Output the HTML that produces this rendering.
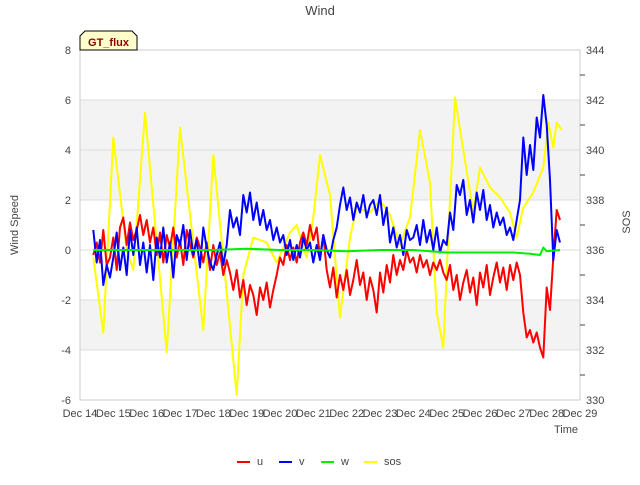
<!DOCTYPE html>
<html><head><meta charset="utf-8"><style>
body{margin:0;background:#fff;font-family:"Liberation Sans",sans-serif}
</style></head><body>
<svg width="640" height="480" xmlns="http://www.w3.org/2000/svg" font-family="Liberation Sans, sans-serif">
<g id="bg"></g><g id="grid"></g><g id="series"></g><g id="axes"></g>
</svg>
<script>
const startDay=14.4, step=0.1;
const uVals=[-0.2,0.3,-0.5,0.8,-0.6,-0.3,
0.5,-0.8,0.9,1.3,0.2,1.1,0.4,0.8,1.4,0.6,
1.2,0.3,0.9,-0.2,0.7,-0.5,0.6,0.1,0.9,-0.3,
0.4,-0.6,0.8,0.2,-0.3,0.5,0.1,-0.5,0.3,-0.8,
0.2,-0.6,-0.1,-1.0,-0.4,-0.9,-1.6,-0.8,-1.9,-1.2,
-2.2,-1.4,-1.8,-2.6,-1.5,-2.0,-1.3,-2.3,-1.6,-1.0,
-0.3,-0.6,0.2,-0.4,0.1,-0.5,0.3,0.7,0.2,1.0,
0.4,0.9,-0.3,0.6,-0.8,-1.5,-0.7,-1.9,-1.0,-1.6,
-0.8,-1.8,-1.2,-0.4,-1.4,-0.9,-2.0,-1.1,-1.6,-2.5,
-0.9,-1.7,-0.6,-1.3,-0.2,-1.0,-0.4,-0.8,0.0,-0.5,
-0.3,-0.9,-0.2,-0.7,-0.4,-1.0,-0.5,-0.8,-0.4,-0.9,
-1.2,-0.6,-1.6,-1.0,-2.0,-1.3,-0.8,-1.7,-1.1,-2.2,
-0.9,-1.5,-0.6,-1.8,-1.1,-0.5,-1.3,-0.7,-1.6,-0.6,
-1.2,-0.5,-1.0,-2.5,-3.5,-3.2,-3.7,-3.3,-3.9,-4.3,
-1.5,-2.4,-0.3,1.6,1.2];
const vVals=[0.8,-0.5,0.4,-1.4,-0.6,-1.1,
-0.3,0.7,-0.8,0.1,-1.0,0.8,-0.2,0.9,-0.6,0.3,
-0.9,0.2,-1.2,0.5,-0.3,0.9,-0.5,0.3,-1.1,0.6,
0.2,1.0,-0.4,0.8,-0.2,0.4,-0.7,0.9,0.1,-0.5,
-0.8,-0.2,0.3,-0.6,0.2,1.6,0.9,1.3,0.6,2.2,
1.5,2.3,1.2,1.9,1.0,1.6,0.8,1.2,0.4,0.9,
0.3,0.6,-0.2,0.4,-0.4,0.2,-0.3,0.5,0.0,0.3,
-0.5,0.2,-0.4,0.6,0.0,-0.3,0.4,0.9,1.8,2.5,
1.6,2.1,1.2,1.9,1.5,2.2,1.3,1.8,2.0,1.4,
2.2,1.0,1.7,0.3,0.9,0.1,0.6,-0.2,0.8,0.4,
0.5,1.0,0.2,1.2,0.3,0.8,0.0,0.9,-0.1,0.4,
0.2,1.5,0.8,2.6,2.2,2.8,1.4,2.0,1.1,2.3,
1.6,2.4,1.2,1.8,0.9,1.5,1.0,1.3,0.6,0.9,
0.4,1.2,2.0,4.5,3.0,4.2,3.2,5.3,4.5,6.2,
5.0,2.8,-0.4,0.8,0.3];
const wDays=[14.4,15,16,17,18,19,20,21,22,23,24,25,26,27,27.5,27.8,27.9,28,28.4];
const wVals=[0,0,0,0,0,0.05,0,0,-0.05,0,0,-0.1,-0.1,-0.1,-0.15,-0.2,0.1,-0.05,0];
const sosDays=[14.4,14.7,15.0,15.4,15.6,15.95,16.6,17.0,17.7,18.0,18.7,18.9,19.2,19.6,19.9,20.3,20.5,20.8,21.0,21.2,21.5,21.8,22.1,22.3,22.7,23.0,23.3,23.6,23.9,24.2,24.5,24.7,24.9,25.1,25.25,25.5,25.8,26.0,26.3,26.6,26.9,27.1,27.3,27.6,27.9,28.05,28.2,28.3,28.45];
const sosVals=[335.7,332.7,340.5,336,335.2,341.5,331.9,340.9,332.8,339.8,330.2,335,336.5,336.3,335.5,336.7,337,335.7,337.3,339.8,338.2,333.3,336.5,337.7,337.5,338,337.4,336.2,337.3,340.8,338.7,333.5,332.1,338,342.1,340,337.5,339.3,338.5,338.1,337.5,336.5,337.7,338.3,339.3,341.1,340.1,341.1,340.8];
const xTicks=["Dec 14","Dec 15","Dec 16","Dec 17","Dec 18","Dec 19","Dec 20","Dec 21","Dec 22","Dec 23","Dec 24","Dec 25","Dec 26","Dec 27","Dec 28","Dec 29"];
const yTicks=[-6,-4,-2,0,2,4,6,8];
const y2Ticks=[330,332,334,336,338,340,342,344];

const NS="http://www.w3.org/2000/svg";
const L=80,R=580,T=50,B=400;
const x=d=>L+(d-14)*(R-L)/15;
const y=v=>B-(v+6)*(B-T)/14;
const y2=v=>B-(v-330)*(B-T)/14;
function mk(p,tag,a,txt){const e=document.createElementNS(NS,tag);for(const k in a)e.setAttribute(k,a[k]);if(txt!==undefined)e.textContent=txt;document.getElementById(p).appendChild(e);return e;}
let b1=mk('bg','rect',{x:L,y:y(6),width:R-L,height:y(2)-y(6),fill:'#f3f3f3'});


let b2=mk('bg','rect',{x:L,y:y(-2),width:R-L,height:y(-4)-y(-2),fill:'#f3f3f3'});


yTicks.forEach(v=>{const g=mk('grid','line',{x1:L,x2:R,y1:y(v),y2:y(v),stroke:'#dcdcdc','stroke-width':1});

});
function line(xs,ys,color,name,w){const pts=xs.map((d,i)=>x(d).toFixed(1)+','+ys[i].toFixed(1)).join(' ');
const p=mk('series','polyline',{points:pts,fill:'none',stroke:color,'stroke-width':w||2,'stroke-linejoin':'round'});

}
const dd=uVals.map((_,i)=>startDay+i*step);
line(sosDays,sosVals.map(y2),'#ffff00','sos-line');
line(dd,uVals.map(y),'#ff0000','u-line');
line(dd,vVals.map(y),'#0000ff','v-line');
line(wDays,wVals.map(y),'#00ee00','w-line');
let ax=mk('axes','rect',{x:L,y:T,width:R-L,height:B-T,fill:'none',stroke:'#cccccc'});


yTicks.forEach(v=>{const t=mk('axes','text',{x:L-9,y:y(v)+4,'text-anchor':'end','font-size':11,fill:'#444'},v);

});
y2Ticks.forEach(v=>{const t=mk('axes','text',{x:R+6,y:y2(v)+4,'font-size':11,fill:'#444'},v);


if(v<344){const m=mk('axes','line',{x1:R,x2:R+5,y1:y2(v+1),y2:y2(v+1),stroke:'#444'});

}});
xTicks.forEach((s,i)=>{const t=mk('axes','text',{x:x(14+i),y:B+17,'text-anchor':'middle','font-size':11,fill:'#444'},s);

});
</script>
<svg style="position:absolute;left:0;top:0" width="640" height="480" font-family="Liberation Sans, sans-serif">
<text x="320" y="15" text-anchor="middle" font-size="13" fill="#444">Wind</text>
<text transform="translate(18,225) rotate(-90)" text-anchor="middle" font-size="11" fill="#444">Wind Speed</text>
<text transform="translate(630,222) rotate(-90)" text-anchor="middle" font-size="11" fill="#444">SOS</text>
<text x="566" y="433" text-anchor="middle" font-size="11" fill="#444">Time</text>
<g>
<path d="M80,50 L80,36 L85,31 L132,31 L137,36 L137,50 Z" fill="#ffffcc" stroke="#000" stroke-width="1"/>
<text x="108.5" y="46" text-anchor="middle" font-size="11" font-weight="bold" fill="#8b0000">GT_flux</text>
</g>
<g font-size="11" fill="#444">
<line x1="237" y1="462" x2="250" y2="462" stroke="#ff0000" stroke-width="2"/><text x="257" y="465">u</text>
<line x1="279" y1="462" x2="292" y2="462" stroke="#0000ff" stroke-width="2"/><text x="299" y="465">v</text>
<line x1="321" y1="462" x2="334" y2="462" stroke="#00ee00" stroke-width="2"/><text x="341" y="465">w</text>
<line x1="364" y1="462" x2="377" y2="462" stroke="#ffff00" stroke-width="2"/><text x="384" y="465">sos</text>
</g>
</svg>
</body></html>
